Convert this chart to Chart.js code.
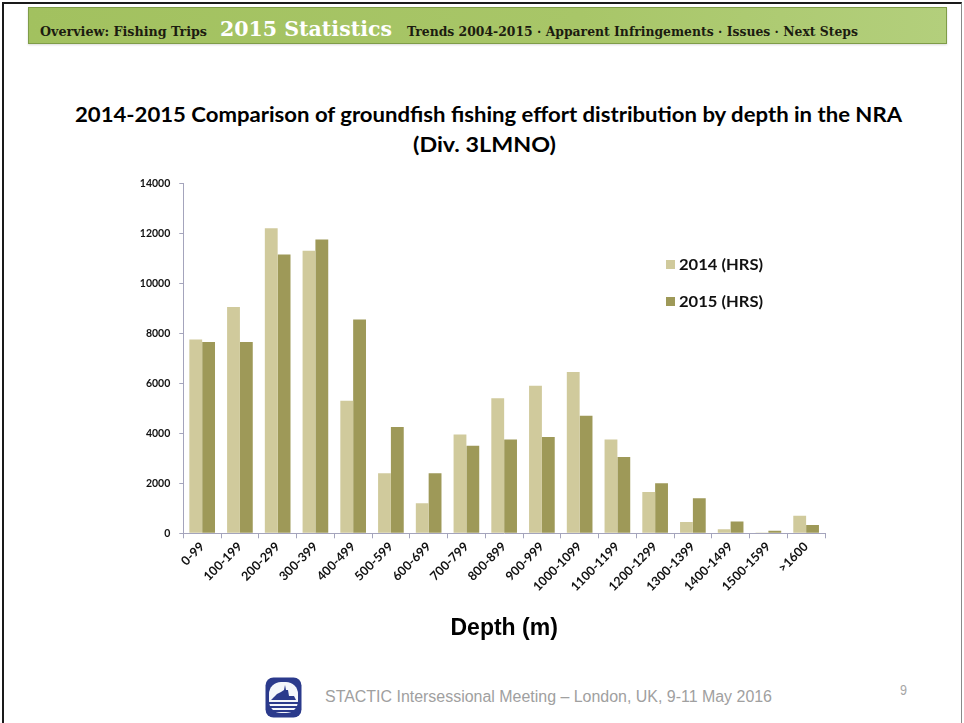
<!DOCTYPE html>
<html>
<head>
<meta charset="utf-8">
<script src="https://cdn.jsdelivr.net/npm/chart.js@4.4.1/dist/chart.umd.min.js"></script>
<style>
  html, body { margin: 0; padding: 0; background: #fff; }
  body { width: 964px; height: 723px; position: relative; overflow: hidden; font-family: Lato, "Liberation Sans", sans-serif; }
  .frame { position: absolute; left: 2px; top: 2px; width: 957px; height: 740px; border-left: 2px solid #1a1a1a; border-top: 2px solid #1a1a1a; border-right: 1px solid #8a8a8a; }
  .navbar { position: absolute; left: 28px; top: 7px; width: 917px; height: 35px; border: 1px solid #7f9c48;
    background: linear-gradient(to right, #a2c15f 0%, #a8c668 60%, #b3cf7c 100%); box-shadow: 0 1px 2px rgba(0,0,0,0.15); }
  .fit { position: absolute; white-space: nowrap; transform-origin: left center; }
  .nav { font-family: "DejaVu Serif Condensed", "DejaVu Serif", serif; font-weight: bold; font-size: 12.5px; color: #1c1c10; }
  .nav-big { font-family: "DejaVu Serif Condensed", "DejaVu Serif", serif; font-weight: bold; font-size: 20px; color: #fff; }
  .title { font-family: Lato, sans-serif; font-weight: bold; font-size: 21px; color: #000; }
  .legend-label { font-family: Lato, sans-serif; font-weight: bold; font-size: 15px; color: #111; }
  .swatch { position: absolute; width: 9px; height: 9px; }
  .foot { font-family: "Liberation Sans", Arial, sans-serif; font-size: 16px; color: #a0a0a0; }
  #chartBox { position: absolute; left: 100px; top: 160px; width: 760px; height: 500px; }
</style>
</head>
<body>
<div class="frame"></div>
<div class="navbar"></div>
<div class="fit nav" data-x="40" data-y="31" data-w="167">Overview: Fishing Trips</div>
<div class="fit nav-big" data-x="220" data-y="29" data-w="172">2015 Statistics</div>
<div class="fit nav" data-x="407" data-y="31" data-w="451">Trends 2004-2015 · Apparent Infringements · Issues · Next Steps</div>

<div class="fit title" data-x="75" data-y="113" data-w="827">2014-2015 Comparison of groundfish fishing effort distribution by depth in the NRA</div>
<div class="fit title" data-x="413" data-y="143" data-w="143">(Div. 3LMNO)</div>

<div id="chartBox"><canvas id="chart"></canvas></div>
<div id="legend"></div>

<svg style="position:absolute;left:265px;top:677px" width="37" height="41" viewBox="0 0 37 41">
  <rect x="0.5" y="0.5" width="36" height="40" rx="8" fill="#2b3a8c"/>
  <rect x="4" y="5" width="29" height="31" rx="12" fill="#f4f6fb"/>
  <path d="M6 23 L31 23 L29 19 L24 19 L23 13 L21 13 L20 8 L19 13 L16 15 L12 17 L9 20 Z" fill="#2b3a8c"/>
  <rect x="4" y="25" width="29" height="2" fill="#2b3a8c"/>
  <rect x="4" y="29" width="29" height="2" fill="#2b3a8c"/>
  <rect x="7" y="33" width="23" height="2" fill="#2b3a8c"/>
</svg>
<div class="fit foot" data-x="325" data-y="697" data-w="447">STACTIC Intersessional Meeting – London, UK, 9-11 May 2016</div>
<div class="fit foot" data-x="900" data-y="690" data-w="7" style="font-size:14px;color:#a6a6a6">9</div>

<script>
const depthBands = ['0-99', '100-199', '200-299', '300-399', '400-499', '500-599', '600-699', '700-799',
  '800-899', '900-999', '1000-1099', '1100-1199', '1200-1299', '1300-1399', '1400-1499', '1500-1599', '>1600'];
const hours2014 = [7750, 9050, 12200, 11300, 5300, 2400, 1200, 3950, 5400, 5900, 6450, 3750, 1650, 450, 160, 30, 700];
const hours2015 = [7650, 7650, 11150, 11750, 8550, 4250, 2400, 3500, 3750, 3850, 4700, 3050, 2000, 1400, 470, 100, 330];
const yTicks = [0, 2000, 4000, 6000, 8000, 10000, 12000, 14000];

const axisColor = '#a4a4bc';
const yFont = { family: 'Lato, sans-serif', size: 10.5, weight: 'bold' };
const xFont = { family: 'Lato, sans-serif', size: 12.5, weight: 'bold' };

// stretch/squeeze a text block to a given width, vertically centred on y
function place(el, x, y, w) {
  el.style.left = x + 'px';
  el.style.top = y + 'px';
  const r = el.getBoundingClientRect().width;
  el.style.transform = `translateY(-50%) scaleX(${w / r})`;
}
document.querySelectorAll('.fit').forEach(el => place(el, +el.dataset.x, +el.dataset.y, +el.dataset.w));

const chart = new Chart(document.getElementById('chart'), {
  type: 'bar',
  data: {
    labels: depthBands,
    datasets: [
      { label: '2014 (HRS)', data: hours2014, backgroundColor: '#d0ca9c', borderWidth: 0 },
      { label: '2015 (HRS)', data: hours2015, backgroundColor: '#9e9958', borderWidth: 0 },
    ]
  },
  options: {
    responsive: true, maintainAspectRatio: false, animation: false,
    layout: { padding: { top: 23.3, right: 35, bottom: 0, left: 0 } },
    datasets: { bar: { categoryPercentage: 0.68, barPercentage: 1 } },
    plugins: { legend: { display: false }, tooltip: { enabled: false } },
    scales: {
      x: {
        afterFit(scale) { scale.height = 126.7; },
        grid: { drawOnChartArea: false, color: axisColor, tickLength: 5, offset: true },
        border: { color: axisColor, width: 1 },
        ticks: { color: '#111', font: xFont, minRotation: 45, maxRotation: 45, autoSkip: false, padding: 1 },
        title: { display: true, text: 'Depth (m)', color: '#000', font: { family: '"Liberation Sans", Arial, sans-serif', size: 23, weight: 'bold' }, padding: { top: 0, bottom: 18 } }
      },
      y: {
        min: 0, max: 14000,
        afterFit(scale) { scale.width = 83.3; },
        afterBuildTicks(scale) { scale.ticks = yTicks.map(v => ({ value: v })); },
        grid: { drawOnChartArea: false, color: axisColor, tickLength: 4 },
        border: { color: axisColor, width: 1 },
        ticks: { color: '#111', font: yFont, padding: 9, callback: v => String(v) }
      }
    }
  }
});

// legend sits inside the plot, to the right of the tall bars
const legendY = [264, 301];
const legend = document.getElementById('legend');
chart.data.datasets.forEach((ds, i) => {
  const sw = document.createElement('div');
  sw.className = 'swatch';
  sw.style.cssText = `left:666px;top:${legendY[i] - 4}px;background:${ds.backgroundColor}`;
  const label = document.createElement('div');
  label.className = 'fit legend-label';
  label.textContent = ds.label;
  legend.append(sw, label);
  place(label, 679, legendY[i], 84);
});
</script>
</body>
</html>
